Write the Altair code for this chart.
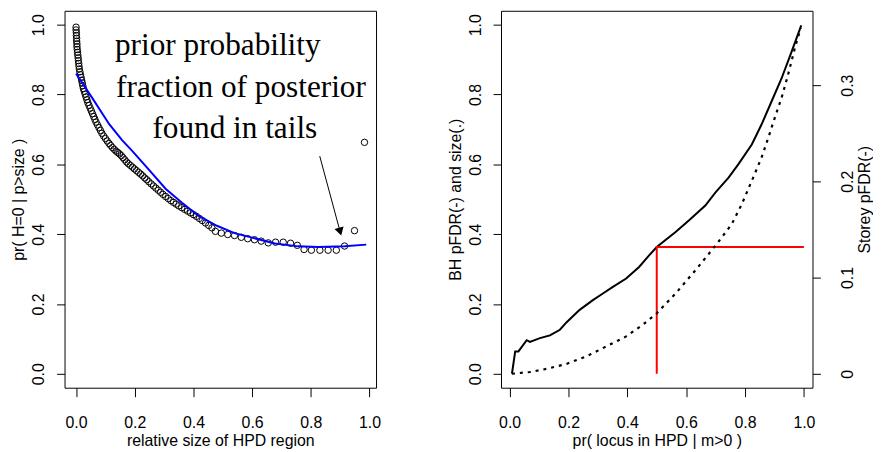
import altair as alt
import pandas as pd

# ---------------- left panel data ----------------
pt_x = [0.000, 0.000, 0.001, 0.001, 0.002, 0.002, 0.003, 0.003, 0.004, 0.005,
        0.006, 0.007, 0.008, 0.009, 0.010, 0.011, 0.013, 0.015, 0.017, 0.019,
        0.021, 0.023, 0.025, 0.028, 0.031, 0.034, 0.037, 0.040, 0.044, 0.048,
        0.052, 0.056, 0.060, 0.064, 0.068, 0.073, 0.078, 0.083, 0.088, 0.094,
        0.100, 0.106, 0.112, 0.118, 0.124, 0.130, 0.136, 0.142, 0.148, 0.154,
        0.160, 0.166, 0.172, 0.178, 0.185, 0.192, 0.199, 0.206, 0.213, 0.220,
        0.227, 0.234, 0.241, 0.248, 0.256, 0.264, 0.272, 0.280, 0.288, 0.296,
        0.305, 0.314, 0.323, 0.332, 0.341, 0.350, 0.360, 0.370, 0.380, 0.390,
        0.400, 0.410, 0.420, 0.430, 0.441, 0.452, 0.463, 0.475, 0.495, 0.517,
        0.540, 0.563, 0.585, 0.608, 0.631, 0.655, 0.680, 0.706, 0.731, 0.754,
        0.777, 0.802, 0.831, 0.859, 0.887, 0.915, 0.949, 0.983]
pt_y = [0.993, 0.985, 0.977, 0.969, 0.961, 0.953, 0.945, 0.937, 0.929, 0.921,
        0.913, 0.905, 0.897, 0.889, 0.881, 0.873, 0.865, 0.857, 0.849, 0.841,
        0.833, 0.825, 0.817, 0.809, 0.801, 0.793, 0.785, 0.777, 0.769, 0.761,
        0.753, 0.745, 0.737, 0.729, 0.721, 0.713, 0.705, 0.697, 0.689, 0.681,
        0.674, 0.667, 0.660, 0.654, 0.648, 0.643, 0.638, 0.634, 0.630, 0.625,
        0.619, 0.613, 0.607, 0.602, 0.597, 0.592, 0.587, 0.582, 0.577, 0.572,
        0.567, 0.561, 0.556, 0.550, 0.544, 0.538, 0.532, 0.526, 0.520, 0.514,
        0.508, 0.502, 0.496, 0.491, 0.486, 0.481, 0.476, 0.471, 0.466, 0.461,
        0.456, 0.451, 0.445, 0.439, 0.432, 0.425, 0.418, 0.408, 0.403, 0.399,
        0.396, 0.391, 0.387, 0.384, 0.380, 0.375, 0.377, 0.377, 0.374, 0.368,
        0.356, 0.354, 0.354, 0.354, 0.354, 0.366, 0.410, 0.663]

fit_x = [0.000, 0.056, 0.113, 0.156, 0.192, 0.248, 0.305, 0.361, 0.418, 0.480,
         0.540, 0.600, 0.678, 0.757, 0.825, 0.915, 0.989]
fit_y = [0.860, 0.789, 0.715, 0.670, 0.638, 0.585, 0.530, 0.490, 0.452, 0.424,
         0.403, 0.390, 0.373, 0.365, 0.363, 0.365, 0.370]

ann_text = ["prior probability", "fraction of posterior", "found in tails"]
ann_x = [0.483, 0.562, 0.541]
ann_y = [0.9147, 0.794, 0.675]

arrow_from = [0.8305, 0.6235]
arrow_to = [0.900, 0.407]

# ---------------- right panel data ----------------
bh_x = [0.008, 0.019, 0.030, 0.058, 0.069, 0.103, 0.137, 0.171, 0.193, 0.238,
        0.283, 0.317, 0.351, 0.396, 0.440, 0.474, 0.500, 0.564, 0.609, 0.665,
        0.699, 0.744, 0.777, 0.823, 0.856, 0.890, 0.924, 0.958, 0.991]
bh_y = [0.000, 0.064, 0.064, 0.096, 0.091, 0.102, 0.110, 0.126, 0.147, 0.183,
        0.211, 0.230, 0.249, 0.273, 0.306, 0.339, 0.363, 0.406, 0.439, 0.482,
        0.519, 0.562, 0.600, 0.657, 0.714, 0.780, 0.846, 0.922, 0.998]

st_x = [0.008, 0.069, 0.126, 0.193, 0.261, 0.328, 0.396, 0.452, 0.500, 0.564,
        0.630, 0.705, 0.755, 0.789, 0.823, 0.856, 0.879, 0.901, 0.924, 0.946,
        0.969, 0.980, 0.990]
st_y = [0.0000, 0.0018, 0.0051, 0.0102, 0.0181, 0.0283, 0.0388, 0.0508, 0.0628, 0.0834,
        0.1070, 0.1353, 0.1556, 0.1763, 0.2006, 0.2246, 0.2453, 0.2659, 0.2866, 0.3106,
        0.3381, 0.3501, 0.3592]

red_x = [0.5, 0.5, 1.0]
red_y = [0.0, 0.363, 0.363]

# ---------------- frames ----------------
pts = pd.DataFrame({"x": pt_x, "y": pt_y})
fit = pd.DataFrame({"x": fit_x, "y": fit_y})
ann = pd.DataFrame({"x": ann_x, "y": ann_y, "t": ann_text})
arr = pd.DataFrame({"x": [arrow_from[0]], "y": [arrow_from[1]],
                    "x2": [arrow_to[0]], "y2": [arrow_to[1]]})
head = pd.DataFrame({"x": [arrow_to[0]], "y": [arrow_to[1]]})
bh = pd.DataFrame({"x": bh_x, "y": bh_y, "o": list(range(len(bh_x)))})
st = pd.DataFrame({"x": st_x, "y": st_y, "o": list(range(len(st_x)))})
red = pd.DataFrame({"x": red_x, "y": red_y, "o": [0, 1, 2]})

W, H = 314, 380
ticks01 = [0, 0.2, 0.4, 0.6, 0.8, 1.0]

def xaxis(title):
    return alt.Axis(title=title, values=ticks01, format=".1f", tickSize=9,
                    labelPadding=18, titlePadding=2, labelAngle=0)

def yaxis_left(title):
    return alt.Axis(title=title, values=ticks01, format=".1f", tickSize=8,
                    labelAngle=270, labelAlign="center", labelBaseline="alphabetic",
                    labelPadding=13, titlePadding=4)

yl_scale = alt.Scale(domain=[-0.04, 1.04], nice=False, zero=False)
xl_scale = alt.Scale(domain=[-0.0393, 1.0223], nice=False, zero=False)
xr_scale = alt.Scale(domain=[-0.0292, 1.0292], nice=False, zero=False)
ys_scale = alt.Scale(domain=[-0.01451, 0.37727], nice=False, zero=False)

X_L = alt.X("x:Q", scale=xl_scale, axis=xaxis("relative size of HPD region"))
Y_L = alt.Y("y:Q", scale=yl_scale, axis=yaxis_left("pr( H=0 | p>size )"))

points = alt.Chart(pts).mark_point(shape="circle", filled=False, size=42,
                                   strokeWidth=1, color="black", opacity=1).encode(x=X_L, y=Y_L)
blue = alt.Chart(fit).mark_line(color="#0000FF", strokeWidth=2).encode(x=X_L, y=Y_L)
texts = alt.Chart(ann).mark_text(font="Liberation Serif", fontSize=31.5, align="center",
                                 baseline="alphabetic", color="black").encode(
    x=X_L, y=Y_L, text="t:N")
arrow_line = alt.Chart(arr).mark_rule(color="black", strokeWidth=1).encode(
    x=X_L, y=Y_L, x2="x2:Q", y2="y2:Q")
arrow_head = alt.Chart(head).mark_point(shape="triangle-up", filled=True, size=90,
                                        angle=164, color="black", opacity=1).encode(x=X_L, y=Y_L)

left = alt.layer(points, blue, texts, arrow_line, arrow_head).properties(width=W, height=H)

X_R = alt.X("x:Q", scale=xr_scale, axis=xaxis("pr( locus in HPD | m>0 )"))
Y_R = alt.Y("y:Q", scale=yl_scale, axis=yaxis_left("BH pFDR(-) and size(.)"))

bh_line = alt.Chart(bh).mark_line(color="black", strokeWidth=2).encode(x=X_R, y=Y_R, order="o:Q")
red_line = alt.Chart(red).mark_line(color="#FF0000", strokeWidth=2, strokeJoin="miter").encode(
    x=X_R, y=Y_R, order="o:Q")
st_line = alt.Chart(st).mark_line(color="black", strokeWidth=2.2, strokeDash=[3, 5]).encode(
    x=X_R,
    y=alt.Y("y:Q", scale=ys_scale,
            axis=alt.Axis(title="Storey pFDR(-)", orient="right", values=[0, 0.1, 0.2, 0.3],
                          format=".1~f", tickSize=8, labelAngle=270, labelAlign="center",
                          labelBaseline="top", labelPadding=19, titleAngle=270,
                          titleBaseline="top", titlePadding=1)),
    order="o:Q")

right = alt.layer(alt.layer(bh_line, red_line), st_line).resolve_scale(y="independent").properties(
    width=W, height=H)

chart = alt.hconcat(left, right, spacing=126, bounds="flush").properties(
    padding={"left": 2, "top": 0, "right": 0, "bottom": 0}
).configure_view(stroke="black", strokeWidth=1).configure_axis(
    labelFont="Liberation Sans", labelFontSize=16, labelColor="black",
    titleFont="Liberation Sans", titleFontSize=16, titleFontWeight="normal", titleColor="black",
    tickColor="black", tickWidth=1, domain=False, grid=False, labelFlush=False, labelOverlap=False
)

chart.save("out.html", embed_options={"renderer": "svg", "actions": False})
